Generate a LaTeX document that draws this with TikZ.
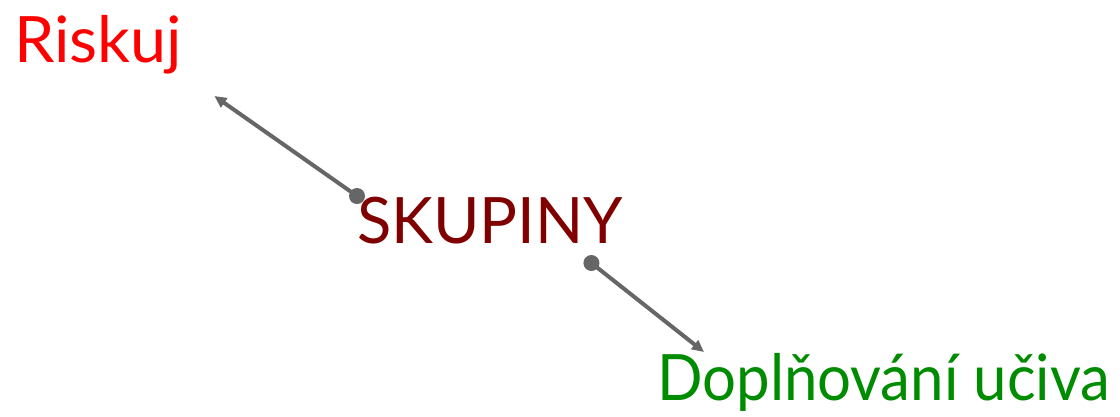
\documentclass[tikz,border=0pt]{standalone}
\usepackage{fontspec}
\setmainfont{Lato}
\usepackage{graphicx}
\usetikzlibrary{arrows.meta}
\definecolor{riskred}{RGB}{255,0,0}
\definecolor{groupred}{RGB}{128,0,0}
\definecolor{topicgreen}{RGB}{0,140,0}
\definecolor{linkgray}{RGB}{102,102,102}
\newcommand{\lbl}[2]{\resizebox{#1pt}{\height}{\fontsize{64}{70}\selectfont #2}}
\tikzset{
  word/.style={inner sep=0pt, anchor=base west},
  link/.style={draw=linkgray, line width=4pt, -{Triangle[length=12pt,width=11pt]}},
  knob/.style={fill=linkgray}
}
\begin{document}
\begin{tikzpicture}[x=1pt,y=-1pt]
  \useasboundingbox[fill=white] (0,0) rectangle (1120,416);
  % topic labels
  \node[word, text=riskred]    (risk) at (14,62)  {\lbl{168}{Riskuj}};
  \node[word, text=groupred]   (skup) at (357,243) {\lbl{266}{SKUPINY}};
  \node[word, text=topicgreen] (dopl) at (657,400) {\lbl{453}{Doplňování učiva}};
  % connector end points
  \coordinate (d1) at ([shift={(0,-47)}]skup.base west);
  \coordinate (t1) at ([shift={(32,34)}]risk.base east);
  \coordinate (d2) at ([shift={(-32,20)}]skup.base east);
  \coordinate (t2) at ([shift={(47,-48)}]dopl.base west);
  % connectors
  \draw[link] (d1) -- (t1);
  \draw[link] (d2) -- (t2);
  \fill[knob] (d1) circle (8);
  \fill[knob] (d2) circle (8);
\end{tikzpicture}
\end{document}
